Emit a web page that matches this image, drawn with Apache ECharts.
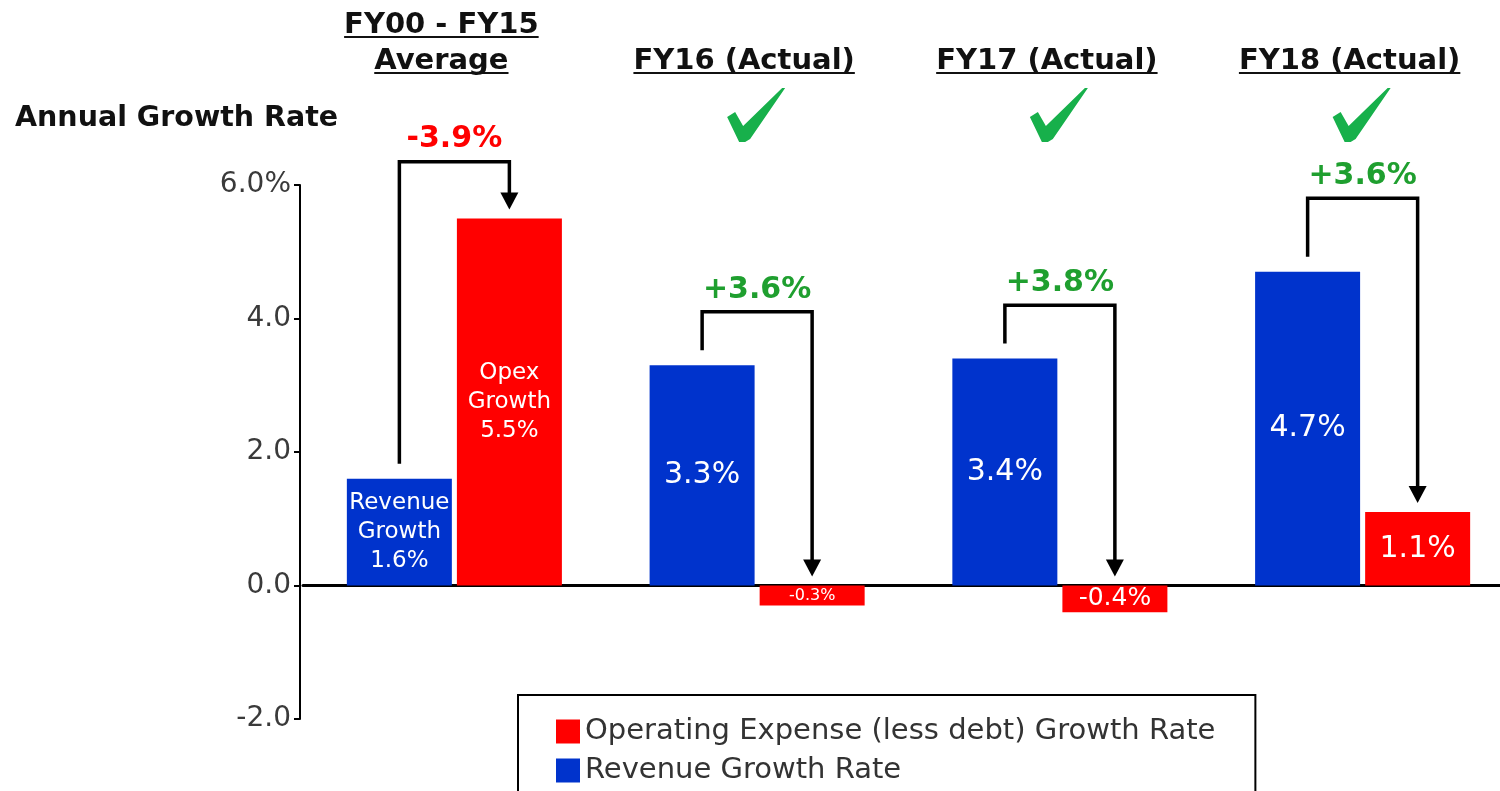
<!DOCTYPE html>
<html>
<head>
<meta charset="utf-8">
<script src="https://cdn.jsdelivr.net/npm/echarts@6/dist/echarts.min.js"></script>
<style>
  html, body { margin: 0; padding: 0; background: #fff; }
  #chart { width: 1500px; height: 791px; }
</style>
</head>
<body>
<div id="chart"></div>
<script>
const categories = ['FY00 - FY15 Average', 'FY16 (Actual)', 'FY17 (Actual)', 'FY18 (Actual)'];
const headings = [['FY00 - FY15', 'Average'], ['FY16 (Actual)'], ['FY17 (Actual)'], ['FY18 (Actual)']];
const revenueGrowth = [1.6, 3.3, 3.4, 4.7];
const opexGrowth = [5.5, -0.3, -0.4, 1.1];
const gapLabels = ['-3.9%', '+3.6%', '+3.8%', '+3.6%'];
const bracketTops = [6.35, 4.1, 4.2, 5.8];
const checked = [false, true, true, true];
const yTicks = [-2, 0, 2, 4, 6];

const BLUE = '#0033cc';
const RED = '#ff0000';
const GREEN = '#1f9f2f';
const FONT = '"DejaVu Sans", Verdana, sans-serif';

const REV_NAME = 'Revenue Growth Rate';
const OPEX_NAME = 'Operating Expense (less debt) Growth Rate';

// check mark outline, relative to its centre
const CHECK_SHAPE = [[-30, 2], [-22, -3], [-14, 11], [25, -27], [28, -27], [-7, 24], [-12, 27], [-18, 27]];

// measure text for the heading underlines
const measureCtx = document.createElement('canvas').getContext('2d');
function textWidth(text, font) {
  measureCtx.font = font;
  return measureCtx.measureText(text).width;
}

function barItems(values) {
  return values.map(function (v, i) {
    let size = 30;
    if (i === 0) size = 23;
    else if (Math.abs(v) < 0.35) size = 16;
    else if (Math.abs(v) < 0.5) size = 25;
    return { value: v, label: { fontSize: size, lineHeight: i === 0 ? 29 : size + 4 } };
  });
}

function barLabel(prefix) {
  return {
    show: true,
    position: 'inside',
    color: '#fff',
    fontFamily: FONT,
    formatter: function (p) {
      const t = p.value.toFixed(1) + '%';
      return p.dataIndex === 0 ? prefix + '\n' + t : t;
    }
  };
}

function renderNotes(params, api) {
  const i = api.value(0);
  const cx = api.coord([i, 0])[0];
  const xL = cx - 55, xR = cx + 55;
  const yStart = api.coord([i, revenueGrowth[i]])[1] - 15;
  const yTop = api.coord([i, bracketTops[i]])[1];
  const yTip = api.coord([i, Math.max(opexGrowth[i], 0)])[1] - 9;

  const children = [
    {
      type: 'polyline',
      shape: { points: [[xL, yStart], [xL, yTop], [xR, yTop], [xR, yTip - 14]] },
      style: { stroke: '#000', lineWidth: 3.5, fill: null }
    },
    {
      type: 'polygon',
      shape: { points: [[xR - 9, yTip - 17], [xR + 9, yTip - 17], [xR, yTip]] },
      style: { fill: '#000' }
    },
    {
      type: 'text',
      style: {
        text: gapLabels[i], x: cx, y: yTop - 22,
        fill: gapLabels[i].charAt(0) === '-' ? RED : GREEN,
        font: 'bold 30px ' + FONT, align: 'center', verticalAlign: 'middle'
      }
    }
  ];

  // column headings, underlined
  const lines = headings[i];
  const hFont = 'bold 29px ' + FONT;
  const hx = cx - 13;
  lines.forEach(function (line, k) {
    const cy = lines.length === 2 ? 25 + k * 36 : 61;
    const w = textWidth(line, hFont);
    children.push({
      type: 'text',
      style: { text: line, x: hx, y: cy, fill: '#111', font: hFont, align: 'center', verticalAlign: 'middle' }
    });
    children.push({
      type: 'line',
      shape: { x1: hx - w / 2, y1: cy + 12, x2: hx + w / 2, y2: cy + 12 },
      style: { stroke: '#111', lineWidth: 2 }
    });
  });

  if (checked[i]) {
    children.push({
      type: 'polygon',
      x: cx,
      y: 115,
      shape: { points: CHECK_SHAPE },
      style: { fill: '#17b04b' }
    });
  }
  return { type: 'group', children: children };
}

const chart = echarts.init(document.getElementById('chart'));
chart.setOption({
  animation: false,
  title: {
    text: 'Annual Growth Rate',
    left: 15,
    top: 103,
    padding: 0,
    textStyle: { fontFamily: FONT, fontWeight: 'bold', fontSize: 28.5, lineHeight: 32, color: '#111' }
  },
  legend: {
    data: [OPEX_NAME, REV_NAME],
    orient: 'vertical',
    left: 518,
    top: 695,
    height: 140,
    padding: [22, 40, 40, 38],
    borderColor: '#000',
    borderWidth: 2,
    itemWidth: 24,
    itemHeight: 24,
    itemGap: 10,
    icon: 'rect',
    selectedMode: false,
    textStyle: { fontFamily: FONT, fontSize: 29, color: '#333' }
  },
  grid: { left: 303, top: 185, width: 1211, height: 534, outerBoundsMode: 'none', containLabel: false },
  xAxis: {
    type: 'category',
    data: categories,
    axisLine: { onZero: true, lineStyle: { color: '#000', width: 3 } },
    axisTick: { show: false },
    axisLabel: { show: false }
  },
  yAxis: {
    type: 'value',
    min: yTicks[0],
    max: yTicks[yTicks.length - 1],
    interval: yTicks[1] - yTicks[0],
    offset: 3,
    axisLine: { show: true, lineStyle: { color: '#000', width: 2 } },
    axisTick: { show: true, length: 6, lineStyle: { color: '#000', width: 2 } },
    splitLine: { show: false },
    axisLabel: {
      margin: 9,
      fontFamily: FONT,
      fontSize: 28,
      color: '#3a3a3a',
      formatter: function (v) {
        return v === yTicks[yTicks.length - 1] ? v.toFixed(1) + '%' : v.toFixed(1);
      }
    }
  },
  series: [
    {
      name: REV_NAME,
      type: 'bar',
      data: barItems(revenueGrowth),
      barWidth: 105,
      barGap: '4.8%',
      itemStyle: { color: BLUE },
      label: barLabel('Revenue\nGrowth')
    },
    {
      name: OPEX_NAME,
      type: 'bar',
      data: barItems(opexGrowth),
      barWidth: 105,
      barGap: '4.8%',
      itemStyle: { color: RED },
      label: barLabel('Opex\nGrowth')
    },
    {
      name: 'notes',
      type: 'custom',
      data: categories.map(function (c, i) { return [i]; }),
      encode: { x: 0 },
      renderItem: renderNotes,
      z: 5,
      silent: true
    }
  ]
});
</script>
</body>
</html>
